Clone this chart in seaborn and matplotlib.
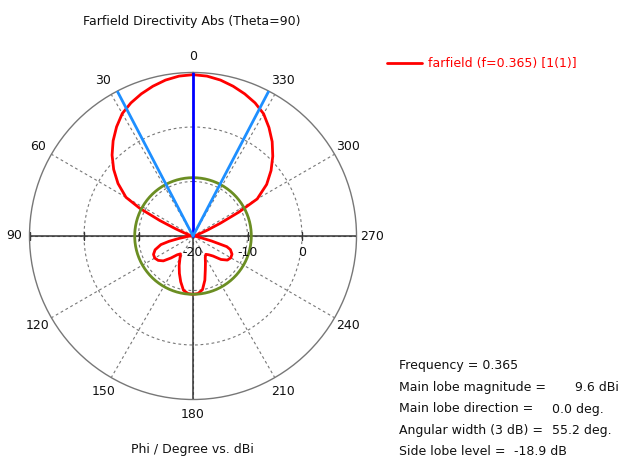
import numpy as np
import matplotlib
matplotlib.use("Agg")
import matplotlib.pyplot as plt
from matplotlib.lines import Line2D
import seaborn as sns

# Farfield directivity cut (Theta=90), phi in degrees, values in dBi
phi_deg = [0, 5, 10, 15, 20, 25, 30, 35, 40, 45, 50, 55, 60, 62.5, 65, 67.5, 70, 75,
           80, 85, 90, 95, 100, 102.5, 105, 110, 115, 120, 125, 130, 135, 140, 145,
           150, 155, 160, 165, 170, 175, 180, 185, 190, 195, 200, 205, 210, 215, 220,
           225, 230, 235, 240, 245, 250, 252.5, 255, 257.5, 260, 265, 270, 275, 280,
           285, 290, 292.5, 295, 297.5, 300, 305, 310, 315, 320, 325, 330, 335, 340,
           345, 350, 355]
directivity = [9.6, 9.45, 9.05, 8.45, 7.75, 6.95, 5.95, 4.45, 2.8, 1.0, -1.0, -3.2, -5.8,
               -9.0, -13.3, -16.5, -18.2, -19.3, -19.7, -19.7, -19.5, -19.0, -17.3, -15.5,
               -13.9, -12.6, -12.0, -11.9, -12.2, -12.9, -14.3, -15.5, -16.0, -15.2,
               -14.0, -12.7, -11.3, -9.9, -9.4, -9.3, -9.4, -10.0, -11.6, -13.4, -14.6,
               -15.5, -15.9, -15.5, -14.8, -13.3, -12.3, -12.0, -12.1, -12.7, -13.5,
               -16.5, -18.5, -19.2, -19.6, -19.7, -19.7, -19.6, -19.3, -18.3, -17.0,
               -14.5, -10.5, -6.4, -3.5, -1.3, 0.7, 2.6, 4.3, 5.9, 6.95, 7.75, 8.45, 9.05, 9.45]

r_min, r_max = -20, 10
r_ticks = [-20, -10, 0]
angle_ticks = [0, 30, 60, 90, 120, 150, 180, 210, 240, 270, 300, 330]

main_lobe_dir = 0.0
main_lobe_mag = 9.6
beam_width = 55.2
side_lobe_level = -18.9

legend_label = "farfield (f=0.365) [1(1)]"
info_labels = ["Main lobe magnitude =", "Main lobe direction =",
               "Angular width (3 dB) =", "Side lobe level ="]
info_values = ["9.6 dBi", "0.0 deg.", "55.2 deg.", "-18.9 dB"]

sns.set_style("white")
plt.rcParams["font.family"] = ["DejaVu Sans"]
fs = 9.0

W, H = 619, 459
fig = plt.figure(figsize=(W / 100, H / 100), dpi=100)
cx, cy, rad = 193, 236, 163.5
ax = fig.add_axes([(cx - rad) / W, (H - cy - rad) / H, 2 * rad / W, 2 * rad / H],
                  projection="polar")
ax.set_theta_zero_location("N")
ax.set_theta_direction(1)
ax.set_rlim(r_min, r_max)

# grid
ax.set_thetagrids(angle_ticks, labels=[""] * len(angle_ticks))
ax.set_rgrids([-10, 0], labels=["", ""])
ax.grid(True, color="#777777", linestyle=(0, (2.5, 2.5)), linewidth=0.8)
ax.spines["polar"].set_color("#777777")
ax.spines["polar"].set_linewidth(1.0)
ax.set_facecolor("white")

# solid axes lines
for a in [90, 180, 270]:
    ax.plot([np.deg2rad(a)] * 2, [r_min, r_max], color="#333333", lw=1.1, zorder=2)
for a in [90, 270]:
    ax.plot([np.deg2rad(a)] * 3, [-10, 0, 10], ls="none", marker="|", ms=6,
            color="#333333", mew=1.0, zorder=2)

# pattern
theta = np.deg2rad(phi_deg + [360])
vals = directivity + [directivity[0]]
sns.lineplot(x=theta, y=vals, ax=ax, sort=False, estimator=None,
             color="#ff0000", lw=2.0, zorder=3, solid_joinstyle="round")

# side lobe level circle
circ = np.linspace(0, 2 * np.pi, 361)
ax.plot(circ, np.full_like(circ, main_lobe_mag + side_lobe_level),
        color="#6b8e23", lw=2.0, zorder=4)

# main lobe direction and 3 dB beam width
ax.plot([np.deg2rad(main_lobe_dir)] * 2, [r_min, r_max], color="#0000ff", lw=2.0, zorder=5)
for a in [main_lobe_dir + beam_width / 2, main_lobe_dir - beam_width / 2]:
    ax.plot([np.deg2rad(a)] * 2, [r_min, r_max], color="#1e8fff", lw=2.0, zorder=5)

ax.set_xlabel("")
ax.set_ylabel("")

# angle labels
px_per_db = rad / (r_max - r_min)
r_lab = r_min + 179 / px_per_db
for a in angle_ticks:
    ax.text(np.deg2rad(a), r_lab, str(a), ha="center", va="center",
            fontsize=fs, color="#111111", clip_on=False)

# radial labels
for rv in r_ticks:
    ax.annotate(str(rv), xy=(np.deg2rad(270), rv), xytext=(0, -16),
                textcoords="offset pixels", ha="center", va="center",
                fontsize=fs, color="#111111", annotation_clip=False, zorder=6)

# titles
fig.text(192 / W, 1 - 21 / H, "Farfield Directivity Abs (Theta=90)",
         ha="center", va="center", fontsize=fs, color="#111111")
fig.text(192.5 / W, 1 - 450 / H, "Phi / Degree vs. dBi",
         ha="center", va="center", fontsize=fs, color="#111111")

# legend
fig.add_artist(Line2D([387 / W, 422 / W], [1 - 63 / H] * 2, color="#ff0000", lw=2.0))
fig.text(428 / W, 1 - 63 / H, legend_label, ha="left", va="center",
         fontsize=fs, color="#ff0000")

# info block
fig.text(399 / W, 1 - 369 / H, "Frequency = 0.365", ha="left", va="baseline",
         fontsize=fs, color="#111111")
base_y = [391, 412.5, 434, 455]
val_x = [575, 552, 552, 514]
for lab, v, y, x in zip(info_labels, info_values, base_y, val_x):
    fig.text(399 / W, 1 - y / H, lab, ha="left", va="baseline", fontsize=fs, color="#111111")
    fig.text(x / W, 1 - y / H, v, ha="left", va="baseline", fontsize=fs, color="#111111")

fig.savefig("out.png", dpi=100)
